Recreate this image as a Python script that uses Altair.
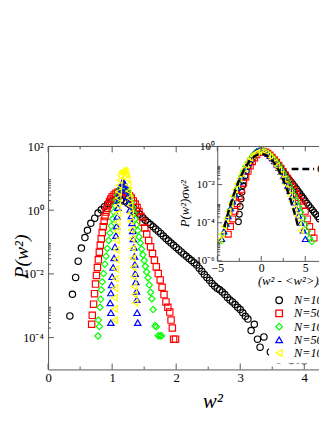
import altair as alt
import pandas as pd

SERIF = "Liberation Serif"
AX = "#555555"

# ---------------- data ----------------
series_names = ["N=10", "N=50", "N=100", "N=500", "N=1000"]
series_colors = ["#000000", "#ff0000", "#00ff00", "#0000ff", "#ffff00"]
series_shapes = ["circle", "square", "diamond", "triangle-up", "triangle-left"]

# main panel: w^2 and log10 P(w^2)
n10_w2 = [0.34, 0.38, 0.43, 0.47, 0.52, 0.575, 0.615, 0.667, 0.728, 0.78, 0.83, 0.88, 0.93, 0.98, 1.03,
          1.08, 1.13, 1.18, 1.23, 1.28, 1.33, 1.38, 1.43, 1.48, 1.52, 1.56, 1.60, 1.64, 1.68, 1.72,
          1.76, 1.80, 1.84, 1.88, 1.92, 1.96, 2.00, 2.04, 2.08, 2.12, 2.16, 2.20, 2.24, 2.28, 2.32,
          2.36, 2.40, 2.44, 2.48, 2.52, 2.56, 2.60, 2.64, 2.68, 2.72, 2.76, 2.80, 2.84, 2.88, 2.92,
          2.96, 3.00, 3.04, 3.08, 3.12, 3.17, 3.22, 3.27, 3.31, 3.37, 3.47, 3.60, 3.70, 3.80, 3.90, 4.00]
n10_logp = [-3.32, -2.64, -2.11, -1.60, -1.19, -0.86, -0.63, -0.41, -0.25, -0.09, 0.01, 0.11, 0.20, 0.27, 0.31,
            0.33, 0.32, 0.29, 0.24, 0.16, 0.08, -0.02, -0.13, -0.24, -0.32, -0.39, -0.45, -0.52, -0.59, -0.66,
            -0.73, -0.81, -0.89, -0.96, -1.03, -1.10, -1.17, -1.24, -1.31, -1.38, -1.45, -1.52, -1.58, -1.65, -1.72,
            -1.82, -1.92, -2.02, -2.11, -2.20, -2.30, -2.38, -2.45, -2.50, -2.57, -2.65, -2.74, -2.82, -2.88, -2.96,
            -3.05, -3.12, -3.22, -3.33, -3.42, -3.78, -3.58, -4.05, -4.30, -3.98, -4.45, -4.70, -4.68, -4.72, -4.70, -4.73]

n50_w2 = [0.68, 0.69, 0.71, 0.725, 0.74, 0.755, 0.77, 0.785, 0.80, 0.815, 0.83, 0.845, 0.86, 0.875, 0.89,
          0.905, 0.92, 0.94, 0.96, 0.98, 1.00, 1.03, 1.06, 1.09, 1.12, 1.15, 1.18, 1.21, 1.24, 1.27,
          1.30, 1.33, 1.36, 1.39, 1.42, 1.45, 1.48, 1.51, 1.54, 1.57, 1.60, 1.63, 1.66, 1.69, 1.72,
          1.75, 1.78, 1.81, 1.84, 1.87, 1.90, 1.92, 1.94, 1.96, 1.99]
n50_logp = [-3.58, -3.30, -2.95, -2.62, -2.32, -2.05, -1.80, -1.56, -1.32, -1.10, -0.90, -0.70, -0.52, -0.35, -0.20,
            -0.06, 0.06, 0.17, 0.27, 0.35, 0.42, 0.48, 0.53, 0.56, 0.58, 0.59, 0.58, 0.55, 0.51, 0.45,
            0.38, 0.29, 0.19, 0.08, -0.04, -0.20, -0.38, -0.56, -0.75, -0.95, -1.15, -1.36, -1.57, -1.78, -1.99,
            -2.19, -2.42, -2.65, -2.88, -3.05, -3.20, -3.45, -3.70, -4.05, -4.05]

n100_w2 = [0.78, 0.80, 0.785, 0.81, 0.82, 0.83, 0.845, 0.865, 0.885, 0.905, 0.925, 0.945, 0.965, 0.985, 1.005,
           1.025, 1.045, 1.065, 1.085, 1.105, 1.13, 1.16, 1.19, 1.22, 1.25, 1.275, 1.30, 1.32, 1.34, 1.36,
           1.38, 1.40, 1.42, 1.44, 1.46, 1.48, 1.50, 1.52, 1.54, 1.56, 1.58, 1.60, 1.62, 1.64, 1.67,
           1.69, 1.72, 1.75, 1.77]
n100_logp = [-3.95, -3.65, -3.45, -3.05, -2.80, -2.50, -2.25, -1.99, -1.70, -1.45, -1.20, -0.95, -0.72, -0.50, -0.28,
             -0.06, 0.14, 0.32, 0.48, 0.60, 0.68, 0.72, 0.71, 0.66, 0.56, 0.42, 0.26, 0.08, -0.10, -0.28,
             -0.46, -0.64, -0.84, -1.03, -1.22, -1.40, -1.58, -1.76, -1.94, -2.12, -2.35, -2.58, -2.78, -3.12, -3.63,
             -3.66, -3.94, -3.95, -3.94]

n500_w2 = [0.98, 0.98, 0.97, 0.98, 0.99, 1.00, 1.015, 1.03, 1.045, 1.06, 1.07, 1.08, 1.09, 1.10, 1.115,
           1.13, 1.145, 1.16, 1.175, 1.19, 1.20, 1.22, 1.24, 1.26, 1.28, 1.30, 1.31, 1.32, 1.33, 1.34,
           1.35, 1.355, 1.36, 1.37, 1.38, 1.385, 1.39, 1.40]
n500_logp = [-3.53, -3.22, -2.91, -2.60, -2.35, -2.09, -1.80, -1.50, -1.15, -0.80, -0.50, -0.20, 0.08, 0.30, 0.52,
             0.70, 0.82, 0.88, 0.88, 0.84, 0.80, 0.62, 0.42, 0.22, 0.02, -0.18, -0.40, -0.65, -0.90, -1.17,
             -1.45, -1.70, -1.99, -2.25, -2.55, -2.81, -3.22, -3.53]

n1000_w2 = [1.04, 1.04, 1.035, 1.045, 1.05, 1.055, 1.06, 1.065, 1.07, 1.075, 1.08, 1.085, 1.09, 1.095, 1.10,
            1.11, 1.12, 1.13, 1.145, 1.16, 1.175, 1.19, 1.205, 1.22, 1.235, 1.25, 1.26, 1.27, 1.28, 1.29,
            1.295, 1.30, 1.31, 1.315, 1.32, 1.33, 1.335, 1.34, 1.35, 1.36]
n1000_logp = [-3.45, -3.10, -2.75, -2.45, -2.15, -1.85, -1.55, -1.25, -0.95, -0.65, -0.38, -0.10, 0.15, 0.38, 0.58,
              0.78, 0.95, 1.08, 1.17, 1.22, 1.24, 1.24, 1.20, 1.12, 0.98, 0.80, 0.60, 0.38, 0.15, -0.10,
              -0.35, -0.62, -0.90, -1.20, -1.50, -1.80, -2.10, -2.40, -2.65, -2.91]

# inset: scaled variable and log10 P*sigma
ins10_x = [-2.6, -2.5, -2.4, -2.3, -2.2, -2.1, -2.0, -1.85, -1.7, -1.5, -1.3, -1.1, -0.9, -0.7, -0.5, -0.3, -0.1, 0.05,
           0.2, 0.4, 0.6, 0.8, 1.0, 1.2, 1.4, 1.6, 1.8, 2.0, 2.2, 2.4, 2.6, 2.8, 3.0, 3.2, 3.4, 3.6, 3.8, 4.0,
           4.2, 4.4, 4.6, 4.8, 5.0, 5.2, 5.4, 5.6, 5.8, 6.0, 6.2, 6.4, 6.6]
ins10_logp = [-3.95, -3.55, -3.15, -2.75, -2.4, -2.05, -1.8, -1.55, -1.3, -1.05, -0.85, -0.68, -0.54, -0.42, -0.33, -0.27, -0.25, -0.25,
              -0.26, -0.29, -0.34, -0.41, -0.49, -0.58, -0.68, -0.79, -0.9, -1.02, -1.14, -1.27, -1.39, -1.51, -1.63, -1.75, -1.86, -1.98, -2.1, -2.22,
              -2.35, -2.47, -2.6, -2.72, -2.85, -2.97, -3.09, -3.21, -3.33, -3.45, -3.55, -3.68, -3.8]

ins50_x = [-3.75, -3.5, -3.25, -3.0, -2.75, -2.5, -2.25, -2.0, -1.75, -1.5, -1.25, -1.0, -0.75, -0.5, -0.25, 0.0,
           0.25, 0.5, 0.75, 1.0, 1.25, 1.5, 1.75, 2.0, 2.25, 2.5, 2.75, 3.0, 3.25, 3.5, 3.75, 4.0,
           4.25, 4.5, 4.75, 5.0, 5.25, 5.5, 5.75, 6.0]
ins50_logp = [-4.6, -4.2, -3.8, -3.4, -3.0, -2.62, -2.25, -1.92, -1.6, -1.3, -1.03, -0.8, -0.6, -0.44, -0.32, -0.26,
              -0.25, -0.29, -0.36, -0.45, -0.56, -0.69, -0.83, -0.98, -1.14, -1.31, -1.49, -1.68, -1.88, -2.08, -2.28, -2.48,
              -2.68, -2.87, -3.07, -3.4, -3.8, -4.2, -4.5, -4.8]

ins100_x = [-4.5, -4.25, -4.0, -3.75, -3.5, -3.25, -3.0, -2.75, -2.5, -2.25, -2.0, -1.75, -1.5, -1.25, -1.0, -0.75,
            -0.5, -0.25, 0.0, 0.25, 0.5, 0.75, 1.0, 1.25, 1.5, 1.75, 2.0, 2.25, 2.5, 2.75, 3.0, 3.25,
            3.5, 3.75, 4.0, 4.25, 4.5, 4.75, 5.0, 5.25, 5.5, 5.75]
ins100_logp = [-4.95, -4.55, -4.12, -3.7, -3.3, -2.92, -2.55, -2.2, -1.88, -1.58, -1.3, -1.05, -0.83, -0.64, -0.48, -0.36,
               -0.28, -0.23, -0.22, -0.24, -0.29, -0.36, -0.45, -0.56, -0.69, -0.84, -1.01, -1.19, -1.39, -1.6, -1.83, -2.07,
               -2.32, -2.58, -2.86, -3.15, -3.45, -3.77, -4.1, -4.45, -4.8, -5.0]

ins500_x = [-4.5, -4.25, -4.0, -3.75, -3.5, -3.25, -3.0, -2.75, -2.5, -2.25, -2.0, -1.75, -1.5, -1.25, -1.0, -0.75,
            -0.5, -0.25, 0.0, 0.25, 0.5, 0.75, 1.0, 1.25, 1.5, 1.75, 2.0, 2.25, 2.5, 2.75, 3.0, 3.25,
            3.5, 3.75, 4.0, 4.25, 4.5, 4.75, 5.0]
ins500_logp = [-4.85, -4.45, -4.05, -3.65, -3.25, -2.88, -2.52, -2.18, -1.87, -1.58, -1.31, -1.06, -0.84, -0.65, -0.49, -0.36,
               -0.27, -0.22, -0.21, -0.24, -0.3, -0.38, -0.49, -0.62, -0.77, -0.94, -1.13, -1.34, -1.56, -1.8, -2.06, -2.33,
               -2.62, -2.93, -3.26, -3.62, -4.0, -4.4, -4.85]

ins1000_x = [-4.75, -4.5, -4.25, -4.0, -3.75, -3.5, -3.25, -3.0, -2.75, -2.5, -2.25, -2.0, -1.75, -1.5, -1.25, -1.0,
             -0.75, -0.5, -0.25, 0.0, 0.25, 0.5, 0.75, 1.0, 1.25, 1.5, 1.75, 2.0, 2.25, 2.5, 2.75, 3.0,
             3.25, 3.5, 3.75, 4.0, 4.25, 4.5]
ins1000_logp = [-4.9, -4.6, -4.2, -3.8, -3.4, -3.0, -2.6, -2.25, -1.95, -1.68, -1.42, -1.18, -0.96, -0.77, -0.61, -0.48,
                -0.38, -0.31, -0.27, -0.27, -0.3, -0.36, -0.44, -0.55, -0.68, -0.84, -1.02, -1.22, -1.45, -1.7, -1.97, -2.26,
                -2.57, -2.9, -3.25, -3.62, -4.0, -4.4]

gauss_x = [-4.2, -4.0, -3.5, -3.0, -2.5, -2.0, -1.5, -1.0, -0.5, 0.0, 0.5, 1.0, 1.5, 2.0, 2.5, 3.0, 3.5, 4.0, 4.2]
gauss_logp = [-4.23, -3.87, -3.06, -2.35, -1.76, -1.27, -0.89, -0.62, -0.45, -0.40, -0.45, -0.62, -0.89, -1.27, -1.76,
              -2.35, -3.06, -3.87, -4.23]

# axis ticks
main_x_ticks = [0, 1, 2, 3, 4]
main_x_minor = [0.5, 1.5, 2.5, 3.5]
main_y_ticks = [1e2, 1e0, 1e-2, 1e-4]
main_y_minor = [k * 10.0 ** e for e in (0, -2, -4) for k in range(2, 10)]
inset_x_ticks = [-5, 0, 5]
inset_x_minor = [-2.5, 2.5]
inset_y_ticks = [1e0, 1e-2, 1e-4, 1e-6]
inset_y_minor = [k * 10.0 ** e for e in (-2, -4, -6) for k in range(2, 10)]

# ---------------- layout ----------------
W, H = 277, 228          # main plot area
IX0, IH = 173, 117       # inset left edge / inset height inside the plot area
MX_MAX = 4.23
IX_MAX = 6.56


def frame(name, xs, lps):
    d = pd.DataFrame({"x": xs, "lp": lps})
    d["P"] = 10.0 ** d["lp"]
    d["N"] = name
    return d


main_df = pd.concat([frame(n, x, l) for n, x, l in zip(
    series_names,
    [n10_w2, n50_w2, n100_w2, n500_w2, n1000_w2],
    [n10_logp, n50_logp, n100_logp, n500_logp, n1000_logp])], ignore_index=True)
ins_df = pd.concat([frame(n, x, l) for n, x, l in zip(
    series_names,
    [ins10_x, ins50_x, ins100_x, ins500_x, ins1000_x],
    [ins10_logp, ins50_logp, ins100_logp, ins500_logp, ins1000_logp])], ignore_index=True)
gauss_df = frame("gauss", gauss_x, gauss_logp)


def XS():
    return alt.Scale(domain=[0, MX_MAX], range=[0, W], nice=False, zero=False)


def YS():
    return alt.Scale(type="log", domain=[1e-5, 1e2], range=[H, 0], nice=False)


def IXS():
    return alt.Scale(domain=[-5, IX_MAX], range=[IX0, W], nice=False, zero=False)


def IYS():
    return alt.Scale(type="log", domain=[1e-6, 1.0], range=[IH, 0], nice=False)


CS = alt.Scale(domain=series_names, range=series_colors)
SS = alt.Scale(domain=series_names, range=series_shapes)

leg = alt.Legend(orient="none", legendX=226, legendY=147, title=None, fillColor="white", padding=4,
                 labelFont=SERIF, labelFontStyle="italic", labelFontSize=12.5, labelColor="black",
                 labelOffset=9, symbolSize=45, symbolStrokeWidth=1.3, rowPadding=0.5, symbolOpacity=1)

main_x_axis = alt.Axis(orient="bottom", values=main_x_ticks, ticks=False, tickSize=0, grid=False,
                       domainColor=AX, labelFont=SERIF, labelFontSize=13, labelColor="black", labelPadding=2,
                       labelFlush=False, title="w²", titleFont=SERIF, titleFontSize=21, titleFontStyle="italic",
                       titleFontWeight="normal", titleColor="black", titleX=168, titleY=39,
                       titleAlign="center", titleBaseline="alphabetic")
main_y_axis = alt.Axis(orient="left", values=main_y_ticks, ticks=False, tickSize=0, grid=False,
                       domainColor=AX, labelFont=SERIF, labelFontSize=12.5, labelColor="black", labelPadding=5,
                       labelFlush=False,
                       labelExpr="datum.value > 10 ? '10²' : datum.value > 0.1 ? '10⁰' : datum.value > 0.001 ? '10⁻²' : '10⁻⁴'",
                       title="P(w²)", titleFont=SERIF, titleFontSize=20, titleFontStyle="italic",
                       titleFontWeight="normal", titleColor="black", titleAngle=270, titleX=-27, titleY=112,
                       titleAlign="center", titleBaseline="middle")
ins_x_axis = alt.Axis(orient="bottom", offset=-(H - IH), values=inset_x_ticks, ticks=False, tickSize=0, grid=False,
                      domainColor=AX, labelFont=SERIF, labelFontSize=12, labelColor="black", labelPadding=2,
                      labelFlush=False, zindex=1,
                      title="(w² - <w²>)/σw²", titleFont=SERIF, titleFontSize=13, titleFontStyle="italic",
                      titleFontWeight="normal", titleColor="black", titleX=214, titleY=24,
                      titleAlign="left", titleBaseline="alphabetic")
ins_y_axis = alt.Axis(orient="left", offset=-IX0, values=inset_y_ticks, ticks=False, tickSize=0, grid=False,
                      domainColor=AX, labelFont=SERIF, labelFontSize=11, labelColor="black", labelPadding=3,
                      labelFlush=False, zindex=1,
                      labelExpr="datum.value > 0.1 ? '10⁰' : datum.value > 0.001 ? '10⁻²' : datum.value > 0.00001 ? '10⁻⁴' : '10⁻⁶'",
                      title="P(w²)σw²", titleFont=SERIF, titleFontSize=13, titleFontStyle="italic",
                      titleFontWeight="normal", titleColor="black", titleAngle=270, titleX=-33, titleY=58,
                      titleAlign="center", titleBaseline="middle")


def xrule(vals, y0, y1, scale):
    return alt.Chart(pd.DataFrame({"t": vals})).mark_rule(color=AX, strokeWidth=1).encode(
        x=alt.X("t:Q", scale=scale, axis=None), y=alt.value(y0), y2=alt.value(y1))


def yrule(vals, x0, x1, scale):
    return alt.Chart(pd.DataFrame({"t": vals})).mark_rule(color=AX, strokeWidth=1).encode(
        y=alt.Y("t:Q", scale=scale, axis=None), x=alt.value(x0), x2=alt.value(x1))


main_pts = alt.Chart(main_df).mark_point(filled=False, size=42, strokeWidth=1.2, opacity=1).encode(
    x=alt.X("x:Q", scale=XS(), axis=main_x_axis),
    y=alt.Y("P:Q", scale=YS(), axis=main_y_axis),
    color=alt.Color("N:N", scale=CS, legend=leg),
    shape=alt.Shape("N:N", scale=SS, legend=leg),
)

bg = alt.Chart(pd.DataFrame({"x0": [-5.0], "x1": [IX_MAX], "y0": [1e-6], "y1": [1.0]})).mark_rect(
    color="white", opacity=1).encode(
    x=alt.X("x0:Q", scale=IXS(), axis=None), x2="x1:Q",
    y=alt.Y("y1:Q", scale=IYS(), axis=None), y2="y0:Q")

ins_pts = alt.Chart(ins_df).mark_point(filled=False, size=36, strokeWidth=1.1, opacity=1).encode(
    x=alt.X("x:Q", scale=IXS(), axis=ins_x_axis),
    y=alt.Y("P:Q", scale=IYS(), axis=ins_y_axis),
    color=alt.Color("N:N", scale=CS, legend=leg),
    shape=alt.Shape("N:N", scale=SS, legend=leg),
)

gauss_line = alt.Chart(gauss_df).mark_line(color="black", strokeWidth=2.4, strokeDash=[7, 4],
                                           interpolate="monotone").encode(
    x=alt.X("x:Q", scale=IXS(), axis=None), y=alt.Y("P:Q", scale=IYS(), axis=None))

key_line = alt.Chart(pd.DataFrame({"k": ["Gaussian"]})).mark_rule(
    color="black", strokeWidth=2.4, strokeDash=[7, 4]).encode(
    x=alt.value(249), x2=alt.value(272), y=alt.value(23))
key_text = alt.Chart(pd.DataFrame({"k": ["Gaussian"]})).mark_text(
    align="left", baseline="middle", font=SERIF, fontSize=13, color="black").encode(
    x=alt.value(275), y=alt.value(23), text="k:N")

top_line = alt.Chart(pd.DataFrame({"k": [0]})).mark_rule(color=AX, strokeWidth=1).encode(
    x=alt.value(0), x2=alt.value(W), y=alt.value(0))

chart = alt.layer(
    main_pts,
    xrule(main_x_ticks, H, H - 6, XS()), xrule(main_x_minor, H, H - 3, XS()),
    xrule(main_x_ticks, 0, 6, XS()), xrule(main_x_minor, 0, 3, XS()),
    yrule(main_y_ticks, 0, 6, YS()), yrule(main_y_minor, 0, 3, YS()),
    bg, ins_pts, gauss_line, key_line, key_text,
    xrule(inset_x_ticks, IH, IH - 5, IXS()), xrule(inset_x_minor, IH, IH - 3, IXS()),
    xrule(inset_x_ticks, 0, 5, IXS()), xrule(inset_x_minor, 0, 3, IXS()),
    yrule(inset_y_ticks, IX0, IX0 + 5, IYS()), yrule(inset_y_minor, IX0, IX0 + 3, IYS()),
    top_line,
).resolve_scale(
    x="independent", y="independent"
).properties(
    width=W, height=H,
    autosize=alt.AutoSizeParams(type="none"),
    padding={"left": 41, "top": 137, "right": 0, "bottom": 42},
    background="white",
).configure_view(stroke=None)

chart.save("out.html", embed_options={"renderer": "svg", "actions": False})
